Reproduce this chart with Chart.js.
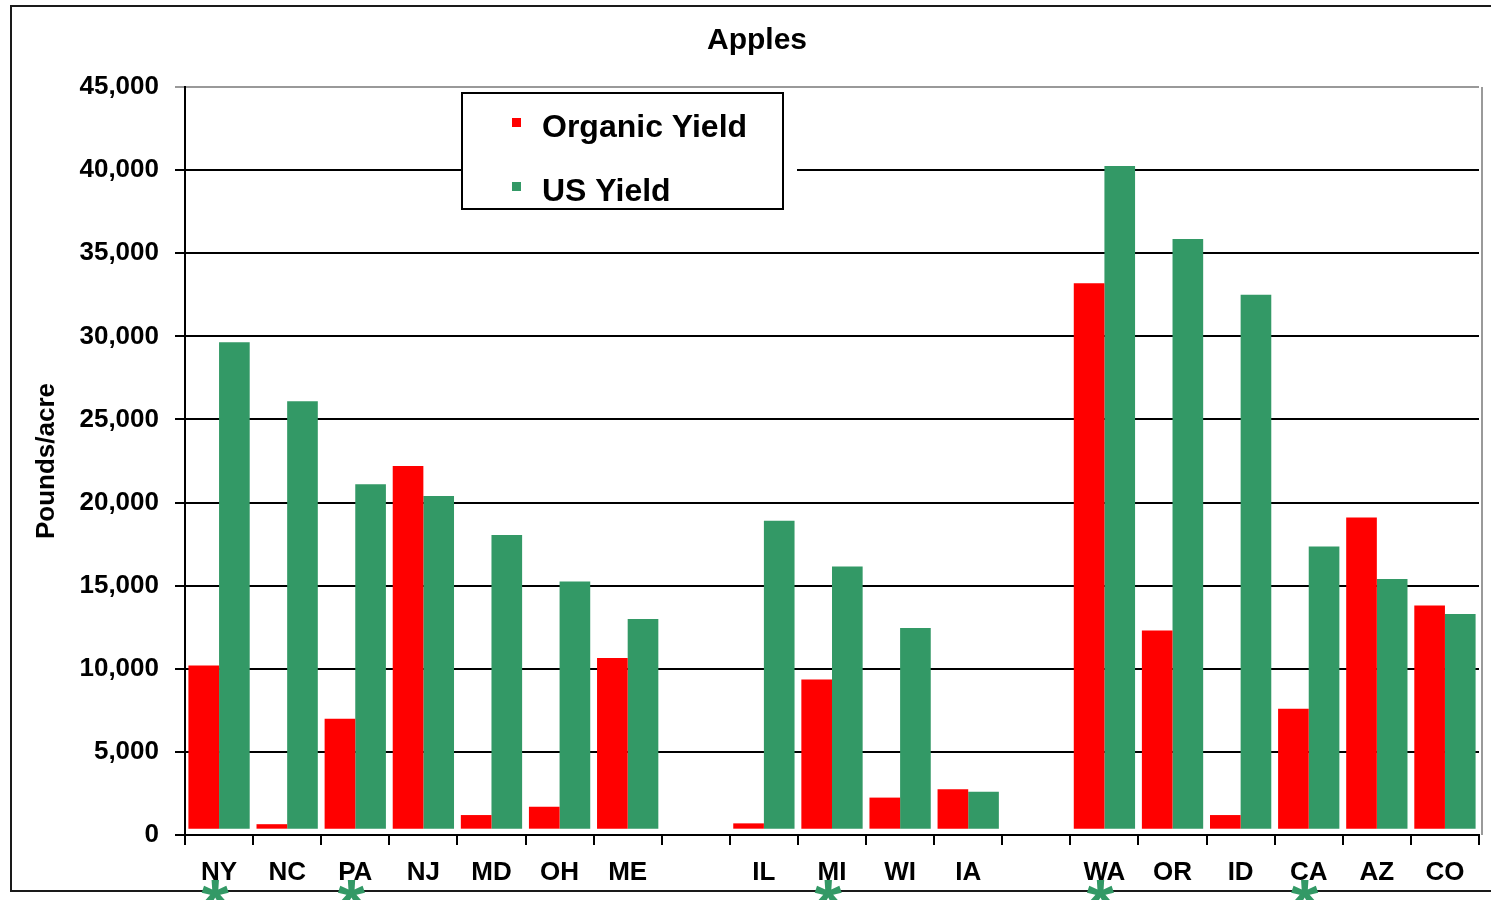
<!DOCTYPE html>
<html>
<head>
<meta charset="utf-8">
<script src="https://cdn.jsdelivr.net/npm/chart.js@4/dist/chart.umd.min.js"></script>
<style>
  html, body { margin: 0; padding: 0; background: #fff; }
  #wrap { width: 1491px; height: 900px; }
</style>
</head>
<body>
<div id="wrap"><canvas id="c" width="1491" height="900"></canvas></div>
<script>
// ---- data ----
const categories = ['NY','NC','PA','NJ','MD','OH','ME','', 'IL','MI','WI','IA','', 'WA','OR','ID','CA','AZ','CO'];
const organicYield = [10200, 650, 7000, 22200, 1200, 1700, 10650, null, 700, 9350, 2250, 2750, null, 33200, 12300, 1200, 7600, 19100, 13800];
const usYield = [29650, 26100, 21100, 20400, 18050, 15250, 13000, null, 18900, 16150, 12450, 2600, null, 40250, 35850, 32500, 17350, 15400, 13300];
const starred = ['NY','PA','MI','WA','CA'];
const seriesNames = ['Organic Yield', 'US Yield'];
const chartTitle = 'Apples';
const yTitle = 'Pounds/acre';

const FONT = '"Liberation Sans", Arial, sans-serif';
const RED = '#FF0000';
const GREEN = '#339966';

const decor = {
  id: 'decor',
  afterDraw(chart) {
    const ctx = chart.ctx;
    const area = chart.chartArea;
    const xs = chart.scales.x;
    ctx.save();
    // outer frame
    ctx.strokeStyle = '#1a1a1a';
    ctx.lineWidth = 2;
    ctx.beginPath();
    ctx.moveTo(1500, 6); ctx.lineTo(11, 6); ctx.lineTo(11, 891); ctx.lineTo(1500, 891);
    ctx.stroke();
    // plot right border
    ctx.strokeStyle = '#9a9a9a';
    ctx.beginPath();
    ctx.moveTo(area.right + 3, area.top); ctx.lineTo(area.right + 3, area.bottom);
    ctx.stroke();
    // title
    ctx.fillStyle = '#000';
    ctx.font = 'bold 30px ' + FONT;
    ctx.textAlign = 'center';
    ctx.textBaseline = 'alphabetic';
    ctx.fillText(chartTitle, 757, 49);
    // legend
    ctx.fillStyle = '#fff';
    ctx.fillRect(462, 93, 335, 116);
    ctx.strokeStyle = '#000';
    ctx.lineWidth = 2;
    ctx.strokeRect(462, 93, 321, 116);
    const ds = chart.data.datasets;
    const rows = [137, 201];
    ctx.font = 'bold 32px ' + FONT;
    ctx.textAlign = 'left';
    ds.forEach((d, i) => {
      ctx.fillStyle = d.backgroundColor;
      ctx.fillRect(512, rows[i] - 19, 9, 9);
      ctx.fillStyle = '#000';
      ctx.fillText(d.label, 542, rows[i]);
    });
    // asterisks
    ctx.fillStyle = GREEN;
    ctx.font = 'bold 70px ' + FONT;
    ctx.textAlign = 'center';
    ctx.textBaseline = 'alphabetic';
    const m = ctx.measureText('*');
    const asc = m.actualBoundingBoxAscent, desc = m.actualBoundingBoxDescent;
    starred.forEach(s => {
      const idx = categories.indexOf(s);
      const x = xs.getPixelForValue(idx) - 4;
      const base = 893 + (asc - desc) / 2;
      ctx.fillText('*', x, base);
    });
    ctx.restore();
  }
};

new Chart(document.getElementById('c'), {
  type: 'bar',
  data: {
    labels: categories,
    datasets: [
      { label: seriesNames[0], data: organicYield, backgroundColor: RED, base: 380 },
      { label: seriesNames[1], data: usYield, backgroundColor: GREEN, base: 380 }
    ]
  },
  options: {
    responsive: false,
    animation: false,
    events: [],
    layout: { padding: { top: 87, right: 12, left: 0, bottom: 0 } },
    datasets: { bar: { barPercentage: 1.0, categoryPercentage: 0.9 } },
    plugins: {
      legend: { display: false },
      title: { display: false },
      tooltip: { enabled: false }
    },
    scales: {
      x: {
        offset: true,
        grid: {
          offset: true,
          drawOnChartArea: false,
          drawTicks: true,
          tickLength: 10,
          color: '#000',
          lineWidth: 2
        },
        border: { display: true, color: '#000', width: 2 },
        ticks: {
          color: '#000',
          padding: 12,
          autoSkip: false,
          maxRotation: 0,
          font: { family: FONT, size: 26, weight: 'bold' }
        },
        afterFit(scale) { scale.height = 65; }
      },
      y: {
        min: 0,
        max: 45000,
        grid: {
          color: (c) => (c.tick && c.tick.value === 45000) ? '#999999' : '#000',
          lineWidth: 2,
          tickLength: 10,
          drawTicks: true
        },
        border: { display: true, color: '#000', width: 2 },
        ticks: {
          stepSize: 5000,
          color: '#000',
          padding: 16,
          font: { family: FONT, size: 26, weight: 'bold' },
          callback: (v) => Number(v).toLocaleString('en-US')
        },
        title: {
          display: true,
          text: yTitle,
          color: '#000',
          padding: { top: 31, bottom: 0 },
          font: { family: FONT, size: 26, weight: 'bold' }
        },
        afterFit(scale) { scale.width = 185; }
      }
    }
  },
  plugins: [decor]
});
</script>
</body>
</html>
